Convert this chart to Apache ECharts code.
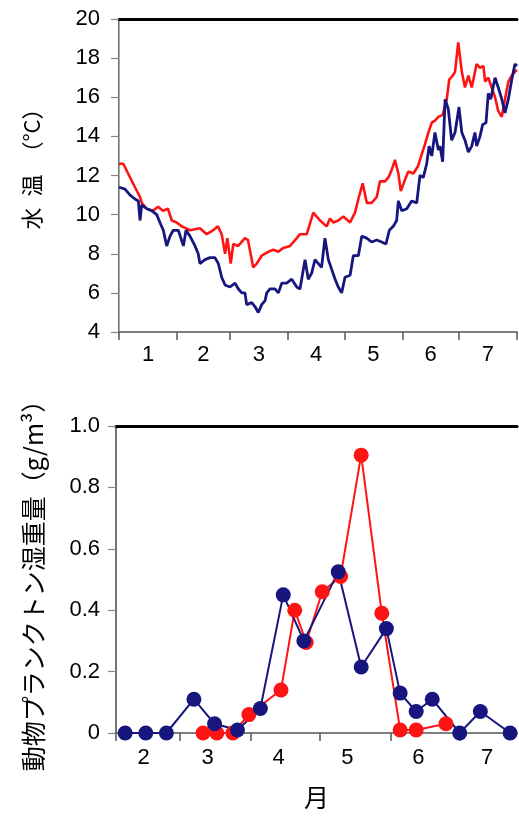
<!DOCTYPE html>
<html><head><meta charset="utf-8">
<script src="https://cdn.jsdelivr.net/npm/echarts@6/dist/echarts.min.js"></script>
<style>html,body{margin:0;padding:0;background:#fff}#c{width:519px;height:816px}</style>
</head><body><div id="c"></div>
<script>
// ---- axis categories / ticks ----
const monthLabels = ['1','2','3','4','5','6','7'];
const monthStarts = [0,31,59,90,120,151,181,212]; // day-of-year of month starts (Jan 1 .. Aug 1)
const tempTicks = [4,6,8,10,12,14,16,18,20];
const bioTicks = [0,0.2,0.4,0.6,0.8,1.0];

// ---- water temperature (day-of-year, °C) ----
const redTempDays = [0,2.3,5.9,8.5,11.2,12.1,14.8,18.1,20.8,23.4,26.1,28.1,30.7,33.4,37.8,43.1,46.7,50.1,52.7,54.7,56.5,57.7,59.5,60.9,63.5,67.1,68.7,71.5,73.4,76.0,79.5,82.2,84.9,87.5,91.1,94.7,96.4,100.0,103.5,107.1,110.6,112.4,114.2,116.8,119.5,123.1,125.7,127.5,129.8,132.0,134.6,137.3,139.0,141.7,143.5,145.3,147.0,148.8,150.1,152.4,154.1,156.8,159.4,161.3,163.0,164.8,166.6,168.3,170.1,172.4,174.6,175.9,177.7,179.0,180.7,182.6,184.3,186.1,187.9,190.5,192.3,194.1,195.0,196.7,198.5,200.3,202.0,203.9,205.6,207.4,209.2,210.9,212];
const redTemp = [12.6,12.6,11.9,11.4,10.9,10.6,10.3,10.2,10.4,10.2,10.3,9.7,9.6,9.4,9.2,9.3,9.0,9.2,9.4,9.0,8.0,8.8,7.5,8.5,8.4,8.8,8.7,7.3,7.5,7.9,8.1,8.2,8.1,8.3,8.4,8.8,9.0,9.0,10.1,9.7,9.4,9.8,9.6,9.7,9.9,9.6,10.1,10.8,11.6,10.6,10.6,10.9,11.7,11.7,11.9,12.3,12.8,12.1,11.2,11.8,12.2,12.1,12.5,13.1,13.6,14.2,14.7,14.8,15.0,15.1,15.9,16.9,17.1,17.3,18.8,17.3,16.5,17.1,16.5,17.7,17.5,17.6,16.8,17.0,16.5,16.0,15.3,15.0,15.9,16.8,17.1,17.3,17.4];
const blueTempDays = [0,3.2,5.9,8.5,10.3,11.2,12.1,14.8,17.4,20.1,21.8,23.6,25.4,27.2,28.9,31.6,34.3,35.7,37.8,40.5,42.2,43.1,45.8,48.5,51.1,52.9,54.7,56.5,59.1,61.8,63.6,65.4,67.1,68.0,70.7,72.4,74.2,76.0,77.8,78.7,80.4,83.1,84.9,86.7,89.3,92.0,94.7,96.4,99.1,100.8,102.6,104.4,107.9,109.7,111.5,113.3,115.1,116.8,118.6,120.4,123.1,124.8,127.5,129.3,131.9,134.6,137.3,139.9,142.2,144.0,146.1,147.9,148.8,150.6,153.3,155.9,158.6,160.3,162.1,163.9,165.2,166.6,168.3,170.1,171.0,172.4,173.7,175.4,177.2,179.0,181.1,182.6,184.3,186.1,187.9,189.6,190.5,192.3,193.7,195.5,196.7,198.0,200.3,202.0,203.9,205.6,207.4,209.2,210.9,212];
const blueTemp = [11.4,11.3,11.0,10.8,10.7,9.7,10.5,10.3,10.2,10.0,9.6,9.2,8.4,8.9,9.2,9.2,8.4,9.2,8.9,8.4,8.0,7.5,7.7,7.8,7.8,7.5,6.8,6.4,6.3,6.5,6.2,6.0,6.0,5.4,5.5,5.3,5.0,5.4,5.6,6.0,6.2,6.2,6.0,6.5,6.5,6.7,6.3,6.2,7.7,6.7,7.0,7.7,7.3,8.8,7.7,7.2,6.7,6.3,6.0,6.8,6.9,7.9,7.9,8.9,8.8,8.6,8.7,8.6,8.5,9.2,9.4,9.7,10.7,10.2,10.3,10.7,10.6,12.0,11.9,12.6,13.5,13.0,14.2,13.3,13.5,12.7,15.9,15.4,13.8,14.2,15.5,14.2,13.8,13.2,13.5,14.2,13.5,14.0,14.6,14.7,16.2,15.9,17.0,16.5,15.9,15.2,15.9,16.9,17.7,17.6];

// ---- zooplankton wet weight (day-of-year, g/m3) ----
const redBioDays = [69,75,82,89,103,109,114,121,129,138,147,155,162,175];
const redBio = [0,0,0,0.06,0.14,0.40,0.295,0.46,0.51,0.905,0.39,0.01,0.01,0.03];
const blueBioDays = [35,44,53,65,74,84,94,104,113,128,138,149,155,162,169,181,190,203];
const blueBio = [0,0,0,0.11,0.03,0.01,0.08,0.45,0.30,0.525,0.215,0.34,0.13,0.07,0.11,0,0.07,0];

// ---- styles ----
const RED = '#ff1414', BLUE = '#16167e';
const FONT = '"Liberation Sans", Arial, "Noto Sans CJK JP", sans-serif';
const CJK = '"Noto Sans CJK JP", sans-serif';

const zip = (a, b) => a.map((x, i) => [x, b[i]]);

// top chart: labels at month midpoints
const topMid = monthStarts.slice(0, 7).map((s, i) => (s + monthStarts[i + 1]) / 2);
// bottom chart: Feb..Jul, labels offset into month
const botStarts = monthStarts.slice(1, 7);
const botLabelPos = botStarts.map(s => s + 12);
const botLabels = monthLabels.slice(1);

const labelStyle = { color: '#000', fontSize: 22, fontFamily: FONT };

const option = {
  animation: false,
  backgroundColor: '#fff',
  grid: [
    { left: 119, right: 2, top: 19, height: 313 },
    { left: 116, right: 2, top: 426, height: 307 }
  ],
  xAxis: [
    { gridIndex: 0, type: 'value', min: monthStarts[0], max: monthStarts[7],
      axisLine: { lineStyle: { color: '#555', width: 1.5 } },
      axisTick: { show: true, length: 8, customValues: monthStarts, lineStyle: { color: '#555', width: 1.5 } },
      axisLabel: Object.assign({ margin: 12, customValues: topMid,
        formatter: v => monthLabels[topMid.indexOf(v)] }, labelStyle),
      splitLine: { show: false } },
    { gridIndex: 0, type: 'value', position: 'top', min: monthStarts[0], max: monthStarts[7],
      axisLine: { show: true, lineStyle: { color: '#000', width: 3 } },
      axisTick: { show: false }, axisLabel: { show: false }, splitLine: { show: false } },
    { gridIndex: 1, type: 'value', min: 31, max: 206,
      name: '月', nameLocation: 'middle', nameGap: 52,
      nameTextStyle: { fontSize: 25, fontFamily: CJK, color: '#000' },
      axisLine: { lineStyle: { color: '#555', width: 1.5 } },
      axisTick: { show: true, length: 8, customValues: botStarts, lineStyle: { color: '#555', width: 1.5 } },
      axisLabel: Object.assign({ margin: 14, customValues: botLabelPos,
        formatter: v => botLabels[botLabelPos.indexOf(v)] }, labelStyle),
      splitLine: { show: false } },
    { gridIndex: 1, type: 'value', position: 'top', min: 31, max: 206,
      axisLine: { show: true, lineStyle: { color: '#000', width: 3 } },
      axisTick: { show: false }, axisLabel: { show: false }, splitLine: { show: false } }
  ],
  yAxis: [
    { gridIndex: 0, type: 'value', min: tempTicks[0], max: tempTicks[tempTicks.length - 1], interval: 2,
      name: '水\u2002温\u2002（°C）', nameLocation: 'middle', nameGap: 76, nameRotate: 90,
      nameTextStyle: { fontSize: 22, fontFamily: CJK, color: '#000', padding: [0, 0, 0, 24] },
      axisLine: { show: true, lineStyle: { color: '#444', width: 1.5 } },
      axisTick: { show: true, length: 8, lineStyle: { color: '#888', width: 1.2 } },
      axisLabel: Object.assign({ margin: 19 }, labelStyle),
      splitLine: { show: false } },
    { gridIndex: 0, type: 'value', position: 'right', min: 4, max: 20,
      axisLine: { show: true, lineStyle: { color: '#aaa', width: 1 } },
      axisTick: { show: false }, axisLabel: { show: false }, splitLine: { show: false } },
    { gridIndex: 1, type: 'value', min: bioTicks[0], max: bioTicks[bioTicks.length - 1], interval: 0.2,
      name: '動物プランクトン湿重量（g/m³）', nameLocation: 'middle', nameGap: 70, nameRotate: 90,
      nameTextStyle: { fontSize: 25, fontFamily: CJK, color: '#000' },
      axisLine: { show: true, lineStyle: { color: '#444', width: 1.5 } },
      axisTick: { show: true, length: 8, lineStyle: { color: '#888', width: 1.2 } },
      axisLabel: Object.assign({ margin: 16, formatter: v => v === 0 ? '0' : v.toFixed(1) }, labelStyle),
      splitLine: { show: false } }
  ],
  series: [
    { name: 'temp-red', type: 'line', xAxisIndex: 0, yAxisIndex: 0, data: zip(redTempDays, redTemp),
      showSymbol: false, lineStyle: { color: RED, width: 2.6 }, itemStyle: { color: RED } },
    { name: 'temp-blue', type: 'line', xAxisIndex: 0, yAxisIndex: 0, data: zip(blueTempDays, blueTemp),
      showSymbol: false, lineStyle: { color: BLUE, width: 2.8 }, itemStyle: { color: BLUE } },
    { name: 'bio-red', type: 'line', xAxisIndex: 2, yAxisIndex: 2, data: zip(redBioDays, redBio),
      symbol: 'circle', symbolSize: 15, lineStyle: { color: RED, width: 2 }, itemStyle: { color: RED } },
    { name: 'bio-blue', type: 'line', xAxisIndex: 2, yAxisIndex: 2, data: zip(blueBioDays, blueBio),
      symbol: 'circle', symbolSize: 15, lineStyle: { color: BLUE, width: 2 }, itemStyle: { color: BLUE } }
  ]
};
const chart = echarts.init(document.getElementById('c'), null, { renderer: 'canvas' });
chart.setOption(option);
</script></body></html>
